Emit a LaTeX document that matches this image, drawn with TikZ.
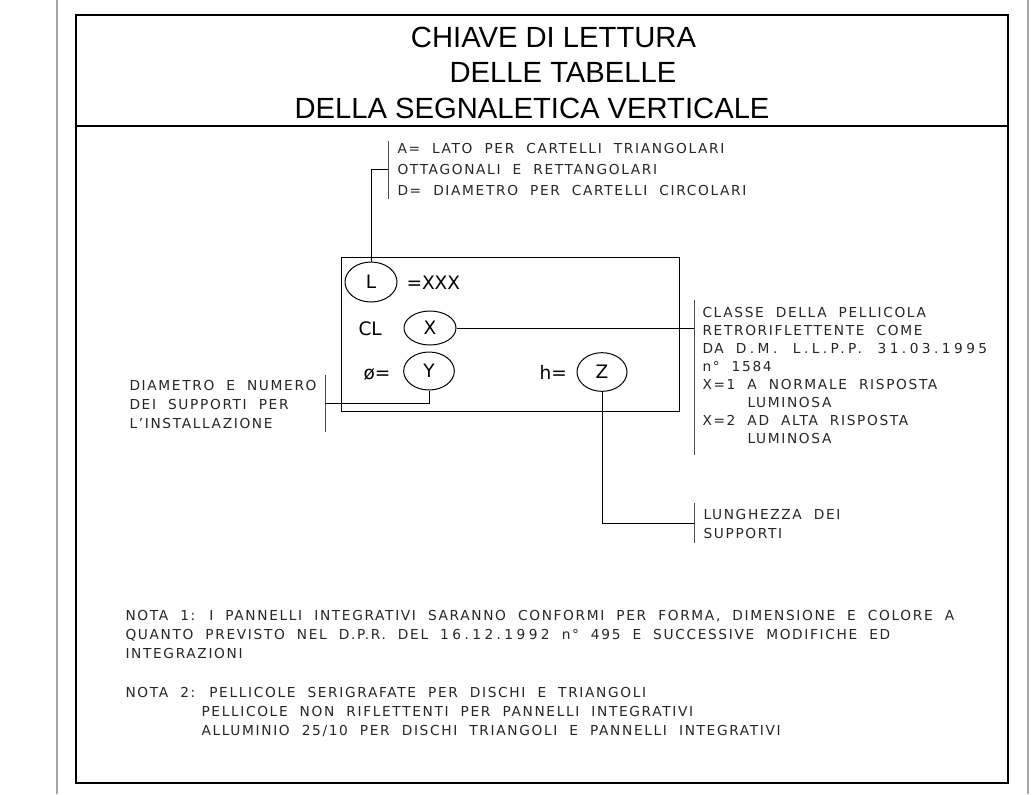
\documentclass[tikz,border=0pt]{standalone}
\usepackage{fontspec}
\setmainfont{Liberation Sans}
\newfontfamily\cadfont[LetterSpace=12,WordSpace=2]{DejaVu Sans}
\newfontfamily\symfont{DejaVu Sans}
\usetikzlibrary{shapes.geometric}
\newcommand{\cadtxt}{\cadfont\fontsize{10.3pt}{12pt}\selectfont}
\newcommand{\symtxt}{\symfont\fontsize{13.9pt}{16pt}\selectfont}
\newcommand{\titletxt}{\fontsize{21.9pt}{26pt}\selectfont}
\newcommand{\widenum}[1]{{\addfontfeature{LetterSpace=25}#1}}

\begin{document}
\begin{tikzpicture}[x=0.75pt,y=-0.75pt,line width=0.75pt,
  lbl/.style={anchor=base west,inner sep=0,font=\cadtxt,text=black!85},
  sym/.style={draw,ellipse,inner sep=0,font=\symtxt},
  txt/.style={anchor=base west,inner sep=0,font=\symtxt},
  ttl/.style={anchor=base,inner sep=0,font=\titletxt},
  bar/.style={draw=black!70}]
\useasboundingbox (0,0) rectangle (1034,794);
\draw[gray!70,line width=1.1pt] (57,0) -- (57,794) (1028,0) -- (1028,794);
\draw[line width=1.4pt] (76,15) rectangle (1008,783); \draw[line width=1.4pt] (76,126) -- (1008,126);
\node[ttl] (ttlA) at (553.5,47) {CHIAVE DI LETTURA};
\node[ttl] (ttlB) at (563,82) {DELLE TABELLE};
\node[ttl] (ttlC) at (532,118) {DELLA SEGNALETICA VERTICALE};
\draw (341,257) rectangle (679,411);
\node[sym,minimum width=39pt,minimum height=30pt] (symL) at (371,282) {L}; \node[txt] (eqL) at (406,289) {=XXX};
\node[txt] (cl) at (358,335) {CL}; \node[sym,minimum width=39pt,minimum height=25.5pt] (symX) at (430,328) {X};
\node[txt] (dia) at (363,379) {ø=}; \node[sym,minimum width=38pt,minimum height=28.5pt] (symY) at (429,371) {Y};
\node[txt] (hh) at (539,379) {h=}; \node[sym,minimum width=37.5pt,minimum height=29pt] (symZ) at (602,372) {Z};
\coordinate (barAt) at (388,141); \coordinate (barAb) at (388,199); \coordinate (barAm) at (388,169); \draw[bar] (barAt) -- (barAb);
\node[lbl] (noteA1) at (397,153) {A= LATO PER CARTELLI TRIANGOLARI};
\node[lbl] (noteA2) at (397,174) {OTTAGONALI E RETTANGOLARI};
\node[lbl] (noteA3) at (397,195) {D= DIAMETRO PER CARTELLI CIRCOLARI};
\draw (symL.north) |- (barAm);
\coordinate (barBt) at (694,300); \coordinate (barBb) at (694,455); \draw[bar] (barBt) -- (barBb);
\node[lbl] (noteB1) at (702,317) {CLASSE DELLA PELLICOLA};
\node[lbl] (noteB2) at (702,335) {RETRORIFLETTENTE COME};
\node[lbl] (noteB3) at (702,353) {DA \widenum{D.M. L.L.P.P. 31.03.1995}};
\node[lbl] (noteB4) at (702,371) {n° 1584};
\node[lbl] (noteB5) at (702,389) {X=1 A NORMALE RISPOSTA};
\node[lbl] (noteB6) at (747,407) {LUMINOSA};
\node[lbl] (noteB7) at (702,425) {X=2 AD ALTA RISPOSTA};
\node[lbl] (noteB8) at (747,443) {LUMINOSA};
\draw (symX.east) -- (symX.east -| barBt);
\coordinate (barCt) at (325,375); \coordinate (barCb) at (325,432); \coordinate (barCm) at (325,403); \draw[bar] (barCt) -- (barCb);
\node[lbl] (noteC1) at (129,390) {DIAMETRO E NUMERO};
\node[lbl] (noteC2) at (129,409) {DEI SUPPORTI PER};
\node[lbl] (noteC3) at (129,428) {L’INSTALLAZIONE};
\draw (symY.south) |- (barCm);
\coordinate (barDt) at (694,503); \coordinate (barDb) at (694,543); \coordinate (barDm) at (694,523); \draw[bar] (barDt) -- (barDb);
\node[lbl] (noteD1) at (703,519) {LUNGHEZZA DEI};
\node[lbl] (noteD2) at (703,538) {SUPPORTI};
\draw (symZ.south) |- (barDm);
\node[lbl] (nota1a) at (125,620) {NOTA 1: I PANNELLI INTEGRATIVI SARANNO CONFORMI PER FORMA, DIMENSIONE E COLORE A};
\node[lbl] (nota1b) at (125,639) {QUANTO PREVISTO NEL D.P.R. DEL \widenum{16.12.1992} n° 495 E SUCCESSIVE MODIFICHE ED};
\node[lbl] (nota1c) at (125,658) {INTEGRAZIONI};
\node[lbl] (nota2a) at (125,697) {NOTA 2: PELLICOLE SERIGRAFATE PER DISCHI E TRIANGOLI};
\node[lbl] (nota2b) at (201,716) {PELLICOLE NON RIFLETTENTI PER PANNELLI INTEGRATIVI};
\node[lbl] (nota2c) at (201,735) {ALLUMINIO 25/10 PER DISCHI TRIANGOLI E PANNELLI INTEGRATIVI};
\end{tikzpicture}
\end{document}
